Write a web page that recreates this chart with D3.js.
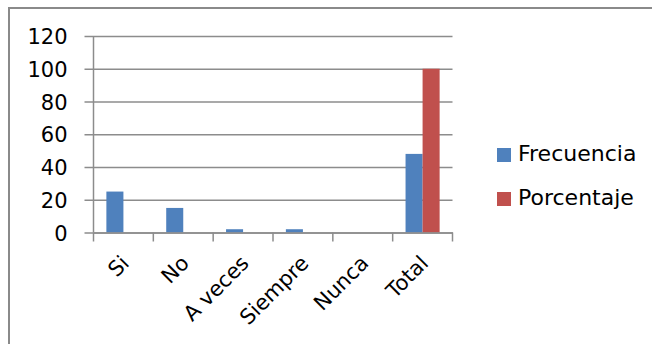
<!DOCTYPE html>
<html>
<head>
<meta charset="utf-8">
<script src="https://cdn.jsdelivr.net/npm/d3@7"></script>
<style>
  html, body { margin: 0; padding: 0; background: #fff; }
  svg { display: block; }
  text { font-family: "DejaVu Sans", sans-serif; fill: #000; }
</style>
</head>
<body>
<svg id="chart" width="652" height="344"></svg>
<script>
// Respuestas por categoría
const categories = ["Si", "No", "A veces", "Siempre", "Nunca", "Total"];
const seriesNames = ["Frecuencia", "Porcentaje"];
const frecuencia = [25, 15, 2, 2, 0, 48];
const porcentaje = [null, null, null, null, null, 100];
const yTicks = [0, 20, 40, 60, 80, 100, 120];
const colors = ["#4F81BD", "#C0504D"];

const svg = d3.select("#chart");

// outer frame
svg.append("rect")
  .attr("x", 9).attr("y", 8)
  .attr("width", 700).attr("height", 400)
  .attr("fill", "none").attr("stroke", "#8a8a8a").attr("stroke-width", 2);

const plot = { left: 93.5, right: 452.5, top: 36, bottom: 232.5 };

const x = d3.scaleBand().domain(categories).range([plot.left, plot.right]).padding(0);
const x1 = d3.scaleBand().domain(seriesNames).range([0, x.bandwidth()])
  .paddingInner(0).paddingOuter(0.756);
const y = d3.scaleLinear().domain([0, 120]).range([plot.bottom, plot.top]);

// gridlines + y axis
const yAxis = d3.axisLeft(y).tickValues(yTicks)
  .tickSize(-(plot.right - plot.left)).tickPadding(0).tickSizeOuter(0);
const gy = svg.append("g").attr("transform", `translate(${plot.left},0)`).call(yAxis);
gy.select(".domain").remove();
gy.selectAll(".tick line")
  .attr("x1", -9)
  .attr("stroke", "#8c8c8c").attr("stroke-width", 1.5);
gy.selectAll(".tick text")
  .attr("x", -26)
  .attr("dy", "0.36em")
  .style("font-size", "21px");

// vertical axis line
svg.append("line")
  .attr("x1", plot.left).attr("x2", plot.left)
  .attr("y1", y(120)).attr("y2", plot.bottom)
  .attr("stroke", "#8c8c8c").attr("stroke-width", 1.5);

// bars
const rows = categories.map((c, i) => ({ c, vals: [frecuencia[i], porcentaje[i]] }));
const groups = svg.append("g").selectAll("g").data(rows).join("g")
  .attr("transform", d => `translate(${x(d.c)},0)`);
groups.selectAll("rect")
  .data(d => d.vals.map((v, k) => ({ k, v })).filter(e => e.v != null && e.v > 0))
  .join("rect")
  .attr("x", e => x1(seriesNames[e.k]))
  .attr("width", x1.bandwidth())
  .attr("y", e => y(e.v))
  .attr("height", e => y(0) - y(e.v))
  .attr("fill", e => colors[e.k]);

// category axis
const xAxis = d3.axisBottom(x).tickSize(0).tickFormat("");
const gx = svg.append("g").attr("transform", `translate(0,${plot.bottom})`).call(xAxis);
gx.select(".domain").attr("stroke", "#8c8c8c").attr("stroke-width", 1.5);
// category separators
const bounds = categories.map(c => x(c)).concat([plot.right]);
svg.append("g").selectAll("line").data(bounds).join("line")
  .attr("x1", d => d).attr("x2", d => d)
  .attr("y1", plot.bottom).attr("y2", plot.bottom + 9)
  .attr("stroke", "#8c8c8c").attr("stroke-width", 1.5);

// rotated category labels
svg.append("g").selectAll("text").data(categories).join("text")
  .attr("text-anchor", "end")
  .attr("transform", c => `translate(${x(c) + x.bandwidth() / 2 + 7},${plot.bottom + 32}) rotate(-45)`)
  .style("font-size", "21px")
  .text(c => c);

// legend
const legend = svg.append("g").attr("transform", "translate(497,148)");
const li = legend.selectAll("g").data(seriesNames).join("g")
  .attr("transform", (d, i) => `translate(0,${i * 44})`);
li.append("rect").attr("width", 14).attr("height", 14).attr("fill", (d, i) => colors[i]);
li.append("text").attr("x", 21).attr("y", 13).style("font-size", "22px").text(d => d);
</script>
</body>
</html>
